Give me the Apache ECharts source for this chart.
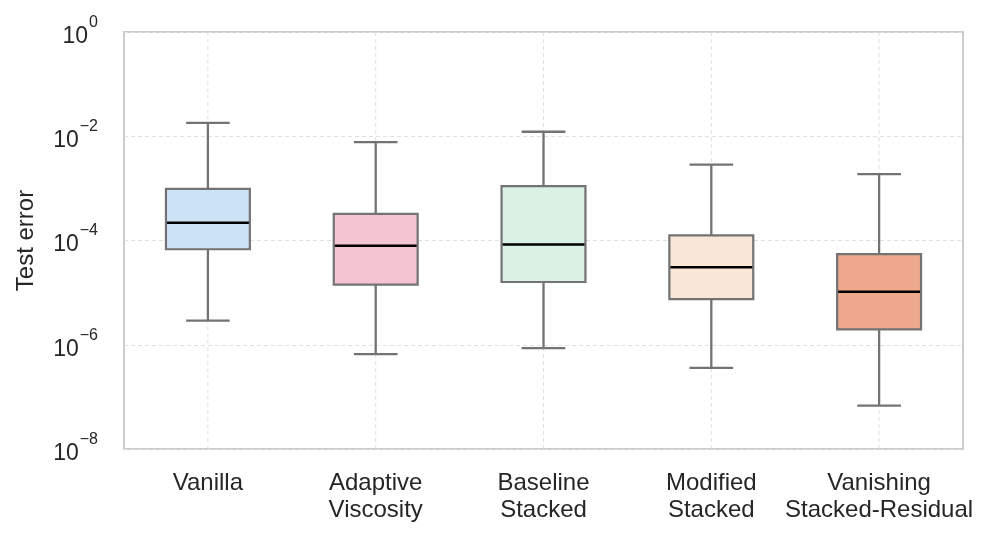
<!DOCTYPE html>
<html>
<head>
<meta charset="utf-8">
<script src="https://cdn.jsdelivr.net/npm/echarts@6/dist/echarts.min.js"></script>
<style>
html,body{margin:0;padding:0;background:#fff;}
#chart{width:995px;height:541px;}
</style>
</head>
<body>
<div id="chart"></div>
<script>
// Categories (two-line labels)
const categories = ['Vanilla', 'Adaptive\nViscosity', 'Baseline\nStacked', 'Modified\nStacked', 'Vanishing\nStacked-Residual'];
// Box statistics (test error values)
const whiskerLow = [2.9e-6, 6.6e-7, 8.6e-7, 3.6e-7, 6.8e-8];
const q1         = [6.8e-5, 1.43e-5, 1.6e-5, 7.5e-6, 1.97e-6];
const median     = [2.2e-4, 7.9e-5, 8.4e-5, 3.07e-5, 1.04e-5];
const q3         = [9.8e-4, 3.25e-4, 1.1e-3, 1.25e-4, 5.5e-5];
const whiskerHigh= [1.8e-2, 7.7e-3, 1.22e-2, 2.85e-3, 1.88e-3];
// Tick exponents of the log axis (10^n)
const tickExponents = [-8, -6, -4, -2, 0];
const fills = ['#cce2f5', '#f5c4d2', '#d9f0e3', '#f8e6d9', '#eea88c'];

const lg = v => Math.log10(v);
const data = categories.map((c, i) => [i, lg(whiskerLow[i]), lg(q1[i]), lg(median[i]), lg(q3[i]), lg(whiskerHigh[i])]);

const chart = echarts.init(document.getElementById('chart'));
const gridColor = '#e0e0e0';
const edgeColor = '#737373';
const FF = 'Liberation Sans, Arial, sans-serif';

function renderItem(params, api) {
  const x = api.value(0);
  const band = api.size([1, 0])[0];
  const half = band * 0.25;
  const cap = band * 0.13;
  const pLow = api.coord([x, api.value(1)]);
  const pQ1 = api.coord([x, api.value(2)]);
  const pMed = api.coord([x, api.value(3)]);
  const pQ3 = api.coord([x, api.value(4)]);
  const pHigh = api.coord([x, api.value(5)]);
  const pTop = api.coord([x, 0]);
  const pBot = api.coord([x, -8]);
  const cx = pMed[0];
  const idx = params.dataIndex;
  return {
    type: 'group',
    children: [
      {type: 'line', shape: {x1: cx, y1: pTop[1], x2: cx, y2: pBot[1]},
       style: {stroke: gridColor, lineWidth: 1, lineDash: [4, 3]}, silent: true},
      {type: 'line', shape: {x1: cx, y1: pHigh[1], x2: cx, y2: pQ3[1]},
       style: {stroke: edgeColor, lineWidth: 2.3}},
      {type: 'line', shape: {x1: cx, y1: pQ1[1], x2: cx, y2: pLow[1]},
       style: {stroke: edgeColor, lineWidth: 2.3}},
      {type: 'line', shape: {x1: cx - cap, y1: pHigh[1], x2: cx + cap, y2: pHigh[1]},
       style: {stroke: edgeColor, lineWidth: 2.3}},
      {type: 'line', shape: {x1: cx - cap, y1: pLow[1], x2: cx + cap, y2: pLow[1]},
       style: {stroke: edgeColor, lineWidth: 2.3}},
      {type: 'rect', shape: {x: cx - half, y: pQ3[1], width: half * 2, height: pQ1[1] - pQ3[1]},
       style: {fill: fills[idx], stroke: edgeColor, lineWidth: 2.2}},
      {type: 'line', shape: {x1: cx - half + 1, y1: pMed[1], x2: cx + half - 1, y2: pMed[1]},
       style: {stroke: '#000000', lineWidth: 2.5}}
    ]
  };
}

chart.setOption({
  animation: false,
  backgroundColor: '#ffffff',
  grid: {left: 124, right: 32, top: 32, bottom: 92, show: true, borderColor: '#cccccc', borderWidth: 2, backgroundColor: 'transparent'},
  xAxis: {
    type: 'category',
    data: categories,
    boundaryGap: true,
    axisLine: {show: false},
    axisTick: {show: false},
    splitLine: {show: false},
    axisLabel: {fontSize: 24, lineHeight: 27, color: '#262626', margin: 21, fontFamily: FF, interval: 0}
  },
  yAxis: {
    type: 'value',
    min: tickExponents[0],
    max: tickExponents[tickExponents.length - 1],
    interval: 2,
    name: 'Test error',
    nameLocation: 'middle',
    nameGap: 86,
    nameTextStyle: {fontSize: 24, color: '#262626', fontFamily: FF},
    axisLine: {show: false},
    axisTick: {show: false},
    splitLine: {show: true, lineStyle: {color: gridColor, width: 1, type: [4, 3]}},
    axisLabel: {
      margin: 26,
      color: '#262626',
      fontFamily: FF,
      formatter: function (v) {
        const e = v === 0 ? '0' : '\u2212' + Math.abs(v);
        return '{b|10}{s|' + e + '}';
      },
      rich: {
        b: {fontSize: 23, color: '#262626', padding: [9, 0, 0, 0], fontFamily: FF},
        s: {fontSize: 16, color: '#262626', padding: [0, 0, 19, 1], fontFamily: FF}
      }
    }
  },
  series: [{
    type: 'custom',
    renderItem: renderItem,
    data: data,
    encode: {x: 0, y: [1, 2, 3, 4, 5]},
    clip: false
  }]
});
</script>
</body>
</html>
